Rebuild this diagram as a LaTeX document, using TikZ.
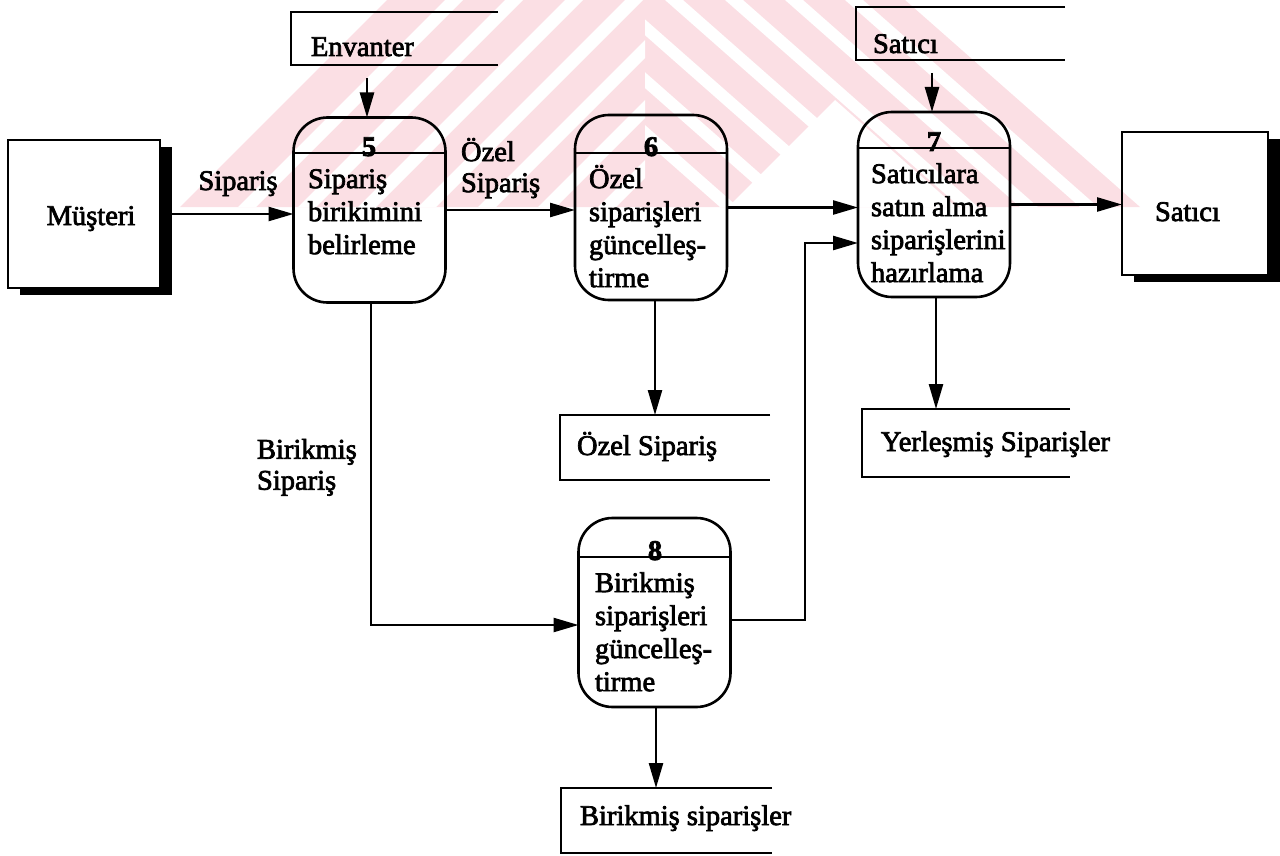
\documentclass[tikz,border=0pt]{standalone}
\usepackage{fontspec}
\setmainfont{Liberation Serif}[FakeBold=2.5]
\usetikzlibrary{arrows.meta,calc}
\begin{document}
\begin{tikzpicture}[x=1pt,y=-1pt,
  every node/.style={inner sep=0pt, outer sep=0pt},
  txt/.style={font=\fontsize{28.5}{33}\selectfont},
  blk/.style={font=\fontsize{28.5}{33}\selectfont, align=left, anchor=north west},
  lbl/.style={font=\fontsize{28.5}{31}\selectfont, align=left, anchor=north west},
  num/.style={font=\fontsize{28.5}{33}\selectfont\bfseries, anchor=base},
  proc/.style={draw, line width=2.6pt, rounded corners=34pt,
               minimum width=152pt, minimum height=185pt},
  ent/.style={draw, line width=2.4pt, rectangle},
  shade/.style={fill=black},
  store/.style={line width=2.4pt},
  rule/.style={line width=2.6pt},
  flow/.style={line width=2.5pt, -{Triangle[length=25pt,width=14pt]}},
  wm/.style={fill={rgb,255:red,251;green,223;blue,228}}
]
\useasboundingbox (0,0) rectangle (1280,856);

% faint striped triangle printed behind the top of the page
\begin{scope}
  \clip (0,0) rectangle (1280,207);
  \fill[wm] (180,207) -- (387,0) -- (905,0) -- (1140,207) -- cycle;
  \fill[white] (728,207) -- (835,100) -- (956,207) -- cycle;
  \begin{scope}
    \clip (0,0) rectangle (645,207);
    \foreach \c in {445,505,565,625,685,745,805}
      \fill[white] (\c,0) -- (\c+18,0) -- (\c+18-207,207) -- (\c-207,207) -- cycle;
  \end{scope}
  \begin{scope}
    \clip (645,0) rectangle (1280,207);
    \foreach \d in {845,785,725,665,605,545,485}
      \fill[white] (\d,0) -- (\d+18,0) -- (\d+18+235,207) -- (\d+235,207) -- cycle;
  \end{scope}
\end{scope}

% external entities with drop shadows
\fill[shade] (160,147) rectangle (172,295);
\fill[shade] (20,288) rectangle (172,295);
\node[ent, minimum width=152pt, minimum height=148pt] (mus) at (84,214) {};
\node[txt, anchor=base] (musT) at (91,225) {Müşteri};

\fill[shade] (1268,139) rectangle (1280,282);
\fill[shade] (1134,275) rectangle (1280,282);
\node[ent, minimum width=146pt, minimum height=143pt] (sat) at (1195,203.5) {};
\node[txt, anchor=base west] (satT) at (1155,221) {Satıcı};

% processes
\node[proc] (p5) at (369.5,210) {};
\node[proc] (p6) at (651,207.5) {};
\node[proc] (p7) at (934,204.5) {};
\node[proc, minimum height=189pt] (p8) at (654.5,612.5) {};

\draw[rule] ([yshift=-35.5pt]p5.north west) -- ([yshift=-35.5pt]p5.north east);
\draw[rule] ([yshift=-38pt]p6.north west) -- ([yshift=-38pt]p6.north east);
\draw[rule] ([yshift=-36pt]p7.north west) -- ([yshift=-36pt]p7.north east);
\draw[rule] ([yshift=-39pt]p8.north west) -- ([yshift=-39pt]p8.north east);

\node[num] (n5) at (369,156) {5};
\node[num] (n6) at (651,156) {6};
\node[num] (n7) at (934,151) {7};
\node[num] (n8) at (655,560) {8};

\node[blk] (t5) at (308,165) {\strut Sipariş\\birikimini\\belirleme};
\node[blk] (t6) at (589,165) {\strut Özel\\siparişleri\\güncelleş-\\tirme};
\node[blk] (t7) at (871,160) {\strut Satıcılara\\satın alma\\siparişlerini\\hazırlama};
\node[blk] (t8) at (595,569) {\strut Birikmiş\\siparişleri\\güncelleş-\\tirme};

% data stores (open on the right)
\coordinate (envA) at (498,12);  \coordinate (envB) at (291,65);
\coordinate (stA)  at (1065,7);  \coordinate (stB)  at (856,60);
\coordinate (ozA)  at (770,415); \coordinate (ozB)  at (560,480);
\coordinate (yeA)  at (1070,409);\coordinate (yeB)  at (862,477);
\coordinate (biA)  at (772,788); \coordinate (biB)  at (561,853);
\foreach \a/\b in {envA/envB, stA/stB, ozA/ozB, yeA/yeB, biA/biB}
  \draw[store] (\a) -- (\a -| \b) -- (\b) -- (\b -| \a);

\node[txt, anchor=base west] (envT) at (311,56)  {Envanter};
\node[txt, anchor=base west] (stT)  at (873,53)  {Satıcı};
\node[txt, anchor=base west] (ozT)  at (577,455) {Özel Sipariş};
\node[txt, anchor=base west] (yeT)  at (881,451) {Yerleşmiş Siparişler};
\node[txt, anchor=base west] (biT)  at (580,825) {Birikmiş siparişler};

% flow labels
\node[txt, anchor=base] (lSip) at (238,190) {Sipariş};
\node[lbl] (lOz) at (461,138) {\strut Özel\\Sipariş};
\node[lbl] (lBir) at (257,437) {\strut Birikmiş\\Sipariş};

% data flows
\coordinate (envOut) at (367,78);
\coordinate (stOut) at (932,73);
\draw[flow] (envOut) -- (envOut |- p5.north);
\draw[flow] (stOut) -- (stOut |- p7.north);
\draw[flow] ([xshift=12pt]mus.east) -- (mus.east -| p5.west);
\draw[flow] (p5.east) -- (p5.east -| p6.west);
\draw[flow] (p6.east) -- (p6.east -| p7.west);
\draw[flow] (p7.east) -- (p7.east -| sat.west);
\draw[flow] ([xshift=4pt]p6.south) -- ([xshift=4pt]p6.south |- ozA);
\draw[flow] ([xshift=2pt]p7.south) -- ([xshift=2pt]p7.south |- yeA);
\draw[flow] ([xshift=1.5pt]p8.south) -- ([xshift=1.5pt]p8.south |- biA);
\draw[flow] ([xshift=1.5pt]p5.south) |- ($(p8.west)+(0,12.5)$);
\coordinate (bend) at (805,243);
\draw[flow] ($(p8.east)+(0,7.5)$) -| (bend) -- (bend -| p7.west);
\end{tikzpicture}
\end{document}
